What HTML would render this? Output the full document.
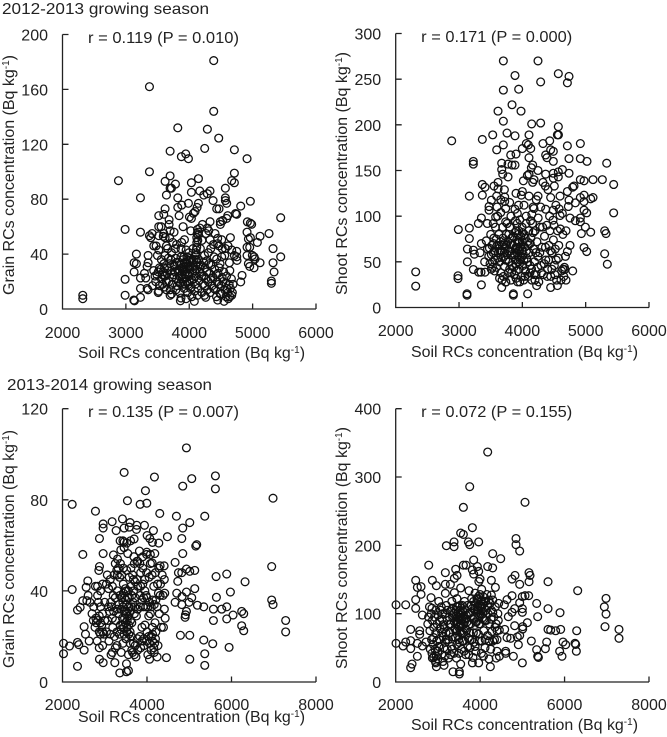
<!DOCTYPE html>
<html lang="en">
<head>
<meta charset="utf-8">
<title>Soil RCs concentration scatter plots</title>
<style>
html,body{margin:0;padding:0;background:#fff;}
#figure{display:block;width:667px;height:737px;}
text{font-family:"Liberation Sans",sans-serif;fill:#222;font-size:16px;}
.axis{stroke:#222;stroke-width:1.3;fill:none;}
.dot{fill:none;stroke:#111;stroke-width:1.3;}
</style>
</head>
<body>
<svg id="figure" xmlns="http://www.w3.org/2000/svg" width="667" height="737" viewBox="0 0 667 737">
<text x="2" y="14" textLength="207" lengthAdjust="spacingAndGlyphs">2012-2013  growing season</text>
<text x="7" y="390" textLength="205" lengthAdjust="spacingAndGlyphs">2013-2014  growing season</text>
</svg>
<script>
const grain2012Points = [
[4386,181],[3372,162],[4386,144],[3819,132],[4286,131],[4465,124.5],[4244,117],[4712,116],[3698,115],[3945,113],[3876,111],[3987,109.5],[4912,109.5],[3372,100],[4712,99],[3698,97],[4145,95],[2883,93.5],[4670,93.5],[4712,92],[3619,93],[3782,91],[4034,92],[3698,88],[3719,88],[4570,88],[4328,86],[4166,86],[4034,85],[4229,83],[4286,84],[3640,83],[3230,81],[3819,81],[4570,81],[4570,79],[4376,79],[4964,78.5],[3987,77],[4145,77],[4591,77],[3881,75.7],[4812,75],[3819,74],[4124,74],[3619,73],[4433,73],[4470,73],[4092,71],[4749,69],[4730,69.5],
[2988,58],[3230,56],[5259,55],[5443,66.5],[4917,63.5],[4964,62.5],[4985,61.7],[4912,56],[5117,53],[4964,52],[4933,51],[5075,48.5],[4649,52],[5322,44],[4912,45],[4954,45],[5443,38],[4996,39],[5022,38],[4912,39],[5038,36.4],[5117,33.7],[5322,33.7],[4933,33],[4954,31],[5022,30],[5338,27],[5296,20.4],[5296,18.7],[4833,24.5],[4812,19.7],[4749,38],[4712,39],[4749,42],[4754,35.4],
[2320,10],[2320,7.5],[2988,21.6],[2988,10],[3125,6.5],[3135,6],[3230,8.5],[3230,15],[3130,27],[3130,33.7],[3166,33],[3166,40],[3230,22.6],[3314,22.6],[3293,26],[3335,31],[3351,33.7],[3351,39],[3498,39],[3372,53.4],[3414,55],[3393,52],[3440,46],[3477,46],[3519,53.4],[3519,60],[3556,60],[3519,68],[3598,69],[3682,65],[3682,61.6],[3598,55],[3619,52],[3698,57],[3760,56],[3590,53],[3740,48.5],[3719,41],[3640,46],[3619,39],[3782,37],[3903,60],[3840,68],[3881,48.5],[3924,50.5],[4003,67],[4034,66],[4066,69.7],[4024,57],[4208,61.6],[4166,59],[4145,56],[4119,52],[4119,48.5],[4286,59],[4328,63.6],[4307,57],[4265,55],[4407,55],[4328,50.5],[4449,51.5],[4512,50.5],[4449,47.6],[4470,46],[4491,63.6],[4491,61.6],[4528,64.5],[4591,66],[4607,68],[4512,38],[4391,38],[4433,36.4],[4486,33],[4633,33.7],[4570,44],[4612,46],[4670,43],
[4130,58],[4125,55],[4118,45],[4110,43],[4105,41],[4095,39],[4140,54],[4135,50],[4175,44],[3690,52],[3660,44],[3800,47],[3710,36],[3560,36],[3600,33],[3950,43],[3995,41],[4020,37],[4240,39],[4300,41],[4340,44],[4520,44],[4560,39],
[3860,6],[3870,8],[3950,7.5],[4080,5.6],[4040,9],[4130,10],[4260,8.5],[4240,10],[4330,12],[4430,9],[4449,6.5],[4549,5.6],[4617,7.5],[4670,10],[4640,9],[4580,9],[4500,11],[3698,10],[3720,11],[3519,13],[3510,12],[3335,15],[3350,14],[3640,14],[3420,17],[3470,20],[3440,28],[3490,25],[3530,17],[3560,22],[3590,27],[3530,30],[3580,18],[3620,24],[3650,30],[3680,20],[3700,14],[3730,18],[3750,25],[3770,31],[3790,14],[3800,22],[3820,28],[3840,34],[3850,12],[3865,19],[3880,25],[3895,30],[3905,36],[3920,15],[3930,22],[3945,27],[3955,33],[3965,38],[3975,12],[3985,18],[3995,24],[4005,29],[4015,34],[4030,16],[4040,21],[4050,26],[4060,31],[4075,36],[4085,13],[4095,18],[4105,24],[4115,29],[4125,34],[4140,15],[4155,21],[4170,27],[4185,32],[4200,12],[4215,18],[4230,24],[4250,30],[4270,35],[4285,14],[4300,20],[4320,26],[4340,32],[4360,17],[4380,23],[4400,29],[4415,14],[4440,20],[4455,26],[4475,30],[4490,11],[4505,17],[4520,23],[4545,27],[4560,14],[4575,19],[4590,24],[4610,12],[4630,18],[4650,15],[4665,22],[4680,12],[4690,18],[3900,18],[3910,28],[3940,18],[3960,20],[3970,26],[3980,31],[3990,35],[4000,20],[4010,26],[3850,28],[3830,20],[3870,32],[3760,32],[3720,28],[3640,20],[3600,24],[4070,22],[4100,32],[3800,34],[3930,34],[3870,38],[4020,15],[3890,22],[4150,36],[4260,22],
[3460,24],[3510,27],[3550,29],[3575,25],[3610,30],[3655,26],[3690,33],[3735,23],[3775,27],[3810,17],[3845,24],[3925,29],[3915,38],[3935,25],[3975,29],[4012,31],[4045,35],[4085,28],[4110,36],[4160,31],[4195,24],[4225,34],[4245,17],[4275,27],[4310,33],[4345,22],[4385,15],[4425,25],[4465,18],[4535,20],[4595,15],[3520,43],[3780,44],[3870,44],[4060,44],[4200,50],[4380,47],[4640,28],[3610,16],[3670,37]
];
const shoot2012Points = [
[3700,270],[4247,270],[3884,254],[4568,256],[4737,253],[4711,246],[4289,247],[3942,239],[3700,238],[3837,222],[3616,215],[3979,215],[3700,204],[4147,201],[4289,202],[4568,198],[3758,191],[3532,189],[3884,188],[4105,189],[4553,189],[4570,189],[2884,182.5],[3368,184],[4432,182.5],[4326,179.5],[4916,179.5],[3700,178],[4063,179.5],[4095,178],[4711,177],[4000,174],[4132,174],[3595,172.6],[4447,172.6],[4489,171],[4368,167],[3816,167],[3900,168],[4389,164],[4105,164],[4489,160],[4916,163],[4737,163],[5021,160],[5332,158],[3226,160],[3226,157],[3674,158],[3774,157],[3837,156],[3884,156],[3674,151],[4163,156],[4142,153],[4247,150],[4632,151],[4568,148.5],[4489,147],[4737,147],[4368,146],[4105,146],[3690,146],[3774,143],[4568,143],[4489,141.6],[4079,144.5],[4016,138.7],[4184,140],[4163,137],[4326,137],[4916,140],[4974,138.7],[5116,140],[5263,140],[5442,134.7],[3368,134.7],[3410,131.7],[3616,137],[3553,133],[3616,130],[3716,129],[4363,133],[4505,133],[4816,133],[4795,131.7],[4711,127],[4405,129],[4000,127],[3900,125],[3984,123],[3721,121],[3368,123],[3163,122],[3595,122],[4105,122],[4247,122],[4447,120.4],[4595,122],[4916,120.4],[4974,123],[5079,119],[5116,120.4],[4974,116],[4737,117.5],[3511,117.5],[4837,114.6],[4726,110.6],[3721,116],[4026,112],[3474,110.6],[3474,106.6],[3737,108.4],[3884,107.6],[4184,108.4],[4368,107.6],[4489,106.6],[4974,106.6],[5016,103.6],[5442,103.6],[4632,103],[4595,100.7],[3921,103],[3353,98],[3579,99],[4753,98],[4837,95],[4916,98],[4916,93.8],[3305,92],[3447,92],[3737,93.8],[4484,95.6],[2989,85.4],[3163,86.9],[5079,82.5],[4995,88],[4932,81],[5300,84],[5321,81],[3163,75.5],[3353,70],[4753,68],[4974,65.7],[5016,61.3],[4711,61.3],[5300,58.8],[5342,47.4],[3132,64],[3226,62.8],[3242,58.4],[3332,60],[3132,50],[3226,41.6],[3310,38.7],[3347,38.7],[3410,38.7],[3405,50],[2316,39],[2316,23.4],[2984,34.7],[2984,31.7],[3126,15],[3126,13.5],[3353,24.8],[3674,21.9],[3737,27.7],[3858,15],[3858,13.5],[4084,15],[4226,24],[4447,21.9],[4553,24],[4689,30],[4795,40],[4668,41.6],
[3430,73],[3450,64],[3470,56],[3490,48],[3510,42],[3520,68],[3540,60],[3550,76],[3560,52],[3575,88],[3590,44],[3600,68],[3620,60],[3630,80],[3640,50],[3655,72],[3660,38],[3670,62],[3680,30],[3690,88],[3700,55],[3710,70],[3720,45],[3730,64],[3740,28],[3745,80],[3760,58],[3770,72],[3780,38],[3790,50],[3800,88],[3810,62],[3820,30],[3830,76],[3840,46],[3850,68],[3860,56],[3870,36],[3880,82],[3890,64],[3900,48],[3910,74],[3920,92],[3925,28],[3930,58],[3940,70],[3945,84],[3950,42],[3960,96],[3965,66],[3970,52],[3975,78],[3985,34],[3990,62],[3995,88],[4000,72],[4010,46],[4015,58],[4020,30],[4030,80],[4040,66],[4050,40],[4060,92],[4070,54],[4080,72],[4090,34],[4100,84],[4110,60],[4120,46],[4135,76],[4150,30],[4160,92],[4175,64],[4190,50],[4200,84],[4215,36],[4230,72],[4245,56],[4260,28],[4280,88],[4295,46],[4310,66],[4330,36],[4350,78],[4370,52],[4385,90],[4400,42],[4420,68],[4435,84],[4450,34],[4470,60],[4490,74],[4505,46],[4520,64],[4540,30],[4555,84],[4570,54],[4600,86],[4620,40],[4640,80],[4655,34],[4665,44],[4680,56],[4690,84],[3820,100],[3760,92],[4150,102],[4250,98],[4320,88],[4500,90],[3500,80],[3540,92],[3610,100],[3660,104],[3890,95],[3905,84],[3935,80],[3950,72],[3915,60],[3955,62],[3900,66],[3880,58],[3925,72],
[3480,65],[3510,58],[3530,50],[3545,70],[3565,62],[3590,75],[3610,54],[3625,68],[3645,62],[3665,55],[3685,68],[3695,76],[3715,60],[3735,52],[3750,68],[3775,62],[3785,80],[3800,42],[3815,70],[3835,58],[3855,78],[3865,44],[3885,52],[3905,40],[3920,64],[3935,50],[3955,48],[3980,56],[4005,82],[4025,52],[4045,76],[4065,62],[4085,50],[4095,68],[4125,70],[4145,42],[4170,82],[4185,36],[4210,60],[4240,44],[4275,60],[4305,38],[4345,48],[4365,66],[4395,34],[4415,52],[4445,62],[4465,42],[4515,36],[4535,52],[4575,68],[4610,30],[4640,42],[3640,32],[3700,34],[3560,40],[3530,44],[3600,110],[3660,118],[4130,95],[4170,110],[4290,110],[4430,100],[4530,112],[4580,108],[3800,115],[3940,112],[4060,100],[4220,118],[3830,38],[3900,32],[3960,28],[4040,34],[4120,38],[4200,30]
];
const grain2013Points = [
[4933,102.8],[3459,92],[4176,90],[5059,89.3],[5619,90.5],[4846,86],[5619,84.8],[3963,84],[6983,80.7],[3537,79.6],[2229,78],[3837,78],[3995,78.5],[2780,75],[4302,74],[4696,72.8],[5367,72.8],[3175,70.4],[3419,71.6],[2962,69.4],[2962,67.6],[3269,66.5],[3600,70],[3758,68.8],[3940,68.8],[3459,67.6],[3580,68],[3750,67],[4152,66.5],[5012,70],[4846,67.6],[4003,64.3],[4066,63],[4483,63.8],[2875,63],[4823,63],[3364,62],[3695,62.8],[3459,61.5],[4129,61.3],[4279,61],[5177,60.3],[5154,59.7],[3459,59],[2481,56],[2962,56.4],[3545,56.4],[3821,57.5],[3995,57],[4846,56.4],[4184,56.4],[3206,55.8],[3301,54],[4665,52.5],[4121,52.3],[4310,51],[4405,51],[2875,50.7],[3285,49],[6951,50.7],[2860,49],[4933,49.6],[5130,49],[5012,48.6],[4823,48],[4744,48],[5887,47.4],[5635,46.3],[4728,44.2],[6321,44],[2599,44.4],[5130,41],[2560,41.6],[2229,40.6],[5974,39.5],[4704,39],[4933,39.5],[4665,35],[4830,37.5],[5059,37],[5643,37.2],[6951,36],[6983,34],[4823,34],[4996,35],[5193,33.7],[5343,33],[5572,32],[5769,32],[5887,33],[6241,31],[6289,30],[4933,31],[4902,28.4],[4910,29.5],[5572,27],[5887,27.7],[6037,29.4],[6241,24.7],[6289,22.5],[7282,27],[7282,22],[4791,20.5],[5012,20.5],[5343,18.4],[5556,16.8],[5943,15.2],[5367,12.4],[5012,10],[5367,7.3],[4460,10.7],[2024,17],[2024,12.4],[2166,15.8],[2355,17.4],[2386,16.4],[2512,14],[2631,18],[2355,6.9],[2875,10],[2962,8.5],[3238,8.5],[3356,4],[3514,4.5],[3560,5],[3514,8],[2355,31.6],[2418,32.8],[2481,35.7],[2576,35.7],[2607,38],[2512,24.3],[2544,21],
[2780,42],[2830,42],[2850,35],[2900,33],[2950,30],[2790,28],[2830,27],[2870,29],[2800,26],[2870,22],[2900,21],[2950,22],[2950,43],[2820,18],[2870,15],[2950,16],[3000,35],[3060,47],[3130,45],[3180,42],[3200,38],[3250,37],[3180,28],[3190,24],[3230,20],[3130,21],[3100,18],[3180,13],[3150,12],[3250,15],[3290,16],[3250,52],[3320,50],[3370,52],[3400,47],[3300,40],[3360,38],[3400,37],[3430,35],[3470,37],[3500,36],[3520,34],[3460,31],[3490,30],[3420,28],[3370,25],[3430,25],[3490,26],[3530,27],[3570,25],[3610,27],[3640,26],[3570,33],[3640,38],[3680,40],[3720,37],[3680,45],[3760,45],[3760,53],[3830,52],[3850,48],[3900,50],[3950,45],[4050,46],[3950,40],[3980,38],[4020,33],[4060,35],[4100,33],[3910,33],[3840,33],[3780,32],[3700,30],[3950,25],[3880,24],[3830,20],[3770,19],[3880,18],[3920,19],[4000,22],[4040,20],[4100,20],[4130,18],[4180,17],[4200,19],[4100,14],[4170,13],[4240,11],[4020,12],[4060,10],[3700,12],[3740,11],[3640,14],[3660,13],[3560,12],[3390,13],[3290,22],[4270,39],[4310,38],[4380,38],[4420,39],[4240,33],[4290,30],[4410,32],[4430,28],[4190,26],[4340,24],[4390,24],[4280,50],[4200,48],[4160,42],[4410,45],[3560,40],[3620,42],[3490,41],[3440,43],[3700,52],[3450,24],[3520,22],[3600,22],[3600,17],[3500,19],[3430,17],[3350,21],[3330,30],[3140,35],[3090,33],[4130,24],
[2650,35],[2700,30],[2730,27],[2770,24],[2740,33],[2900,26],[2930,25],[2980,21],[2830,38],[2900,40],[3000,27],[3040,22],[3070,27],[3110,31],[3160,33],[3210,31],[3260,27],[3300,32],[3340,34],[3390,32],[3440,39],[3510,40],[3540,37],[3580,37],[3430,33],[3470,28],[3510,31],[3550,29],[3590,31],[3630,33],[3670,35],[3710,33],[3750,29],[3390,23],[3460,21],[3530,24],[3570,21],[3630,20],[3680,17],[3720,16],[3780,14],[3850,15],[3930,16],[3990,18],[4060,17],[4130,21],[4160,15],[4210,22],[4260,16],[3840,38],[3880,36],[3920,37],[3970,33],[4000,37],[4040,29],[4080,30],[4130,36],[4170,34],[4210,36],[4250,43],[4320,43],[4360,47],[3040,43],[3090,41],[3220,47],[3300,47],[3350,46],[3440,50],[3520,49],[3580,46],[3620,50],[3660,47],[3720,44],[3780,42],[3850,42],[3900,43],[3990,48],[4080,52],[4120,47],[3380,58],[3430,62],[3520,61],[3610,62],[3690,55],[3780,53],[3900,55],[3990,56],[4080,56]
];
const shoot2013Points = [
[4179,336.6],[3753,285.9],[5063,263],[3603,255.6],[3816,225.9],[3539,218],[3603,216],[4850,210],[3382,205],[3721,205],[3966,205],[4850,201],[3753,201],[3200,199.5],[3382,198],[4937,191.7],[4297,187.8],[4487,180.5],[3847,178.5],[2782,171],[3603,171],[3666,171],[3934,169],[4179,169],[4297,167],[3421,165],[3816,164],[3966,162],[3847,158],[3176,160],[5158,160],[5182,156],[3453,156],[4826,156],[4755,150.7],[3997,150.7],[3389,151.7],[2474,148.8],[2868,148.8],[5608,146.8],[5158,146.8],[4266,148.8],[3970,147],[4937,143],[2600,139.5],[2513,138.5],[2963,141],[3176,143],[3295,143],[4361,138.5],[4037,135.6],[3539,137.6],[3737,133.7],[6311,133.7],[2600,128.3],[3389,130.7],[3176,129.8],[5063,126.3],[5150,126.3],[5000,125],[4755,126.3],[4266,127.3],[2474,120.5],[2837,123.4],[6982,122.4],[6942,110],[5339,115],[4637,120.5],[4937,116],[2008,113],[2237,113],[2474,107.8],[5608,107.3],[5000,107.3],[4818,107.3],[4574,113],[5000,102],[4755,102],[5892,101.5],[6982,99.5],[2632,98],[5363,95.6],[4668,95.6],[5118,86.8],[4818,82.4],[5008,81],[5008,77.6],[6958,81],[7289,77],[7289,64],[2355,77],[2568,75],[2568,69.8],[5608,77],[5671,76],[5789,75],[5908,77],[6287,75],[4582,77],[4637,65],[4724,64],[4937,68],[4880,66],[5213,60],[5576,58.5],[5963,58.5],[6026,54.6],[6247,56.6],[6265,55],[6279,45],[5884,45],[5545,48.8],[5339,47.3],[5363,37.6],[5380,36],[5939,37.6],[4905,54.6],[4605,45],[4605,42],[4455,37.6],[4787,37.6],[5000,28],[4242,22.4],[4210,33.7],[3966,28],[3816,28],[2008,56.6],[2174,52.7],[2237,58.5],[2355,60.5],[2355,49],[2513,56.6],[2632,52.7],[2718,58.5],[2513,37.6],[2387,26.3],[2355,21],[3358,15],[3508,11.7],[3508,15],[3539,26.3],[3145,24.4],[2963,22.4],
[2800,110],[2840,100],[2870,90],[2900,80],[2760,85],[2810,75],[2850,62],[2890,55],[2820,48],[2860,42],[2900,36],[2940,30],[2960,38],[3000,45],[2970,60],[2950,72],[2980,85],[3000,98],[2950,105],[3020,118],[3080,110],[3100,92],[3050,78],[3040,62],[3020,52],[3090,40],[3120,30],[3130,66],[3150,78],[3170,100],[3200,112],[3220,90],[3180,58],[3220,48],[3250,35],[3260,72],[3280,84],[3300,104],[3330,118],[3350,94],[3340,66],[3320,52],[3380,42],[3400,78],[3420,96],[3440,110],[3450,122],[3460,88],[3470,68],[3480,100],[3490,80],[3500,92],[3510,58],[3520,112],[3530,74],[3540,98],[3550,86],[3560,48],[3575,70],[3590,104],[3600,84],[3615,60],[3630,118],[3650,92],[3660,40],[3680,76],[3700,112],[3720,64],[3740,100],[3760,50],[3780,85],[3800,122],[3820,108],[3840,72],[3850,58],[3860,95],[3880,130],[3900,115],[3915,88],[3930,105],[3945,122],[3960,70],[3975,98],[3990,112],[4000,128],[4010,85],[4020,104],[4030,118],[4040,60],[4055,94],[4070,125],[4085,75],[4100,108],[4115,50],[4130,118],[4145,90],[4160,128],[4175,68],[4190,100],[4205,60],[4220,85],[4235,115],[4250,48],[4265,105],[4280,74],[4300,120],[4320,95],[4340,62],[4360,110],[4380,85],[4400,45],[4420,100],[4440,115],[4455,76],[4380,35],[3590,95],[3470,95],[3510,82],[3550,100],[3430,85],[3640,105],[3960,105],[4020,112],[3950,95],
[2780,95],[2860,108],[2920,95],[2900,65],[2930,48],[2870,35],[2950,28],[3000,34],[3040,90],[3060,105],[3110,100],[3130,84],[3090,72],[3140,50],[3170,38],[3190,72],[3220,105],[3250,62],[3270,95],[3290,72],[3310,85],[3340,108],[3370,100],[3390,88],[3410,65],[3430,105],[3450,75],[3470,110],[3490,62],[3510,95],[3530,105],[3550,72],[3570,92],[3580,112],[3610,72],[3630,88],[3650,78],[3670,98],[3690,88],[3710,52],[3730,84],[3750,72],[3770,102],[3790,112],[3810,62],[3830,92],[3845,118],[3870,105],[3890,88],[3910,72],[3925,122],[3940,110],[3960,125],[3975,85],[4000,100],[4010,118],[4040,110],[4065,100],[4090,118],[4110,90],[4140,105],[4170,112],[4210,120],[4260,92],[4300,102],[4350,80],[4400,75],[4430,90],[3300,40],[3440,35],[3500,42],[3620,45],[3730,40],[3830,36],[3900,45],[4030,42],[4120,62],[4220,60],[4300,60],[4400,62],[3200,62],[3340,48],[3450,55],[3580,60],[3760,62],[3880,52],[3980,60],[4080,38]
];
const x2012Ticks = [2000,3000,4000,5000,6000];
const x2013Ticks = [2000,4000,6000,8000];
const grain2012Ticks = [0,40,80,120,160,200];
const shoot2012Ticks = [0,50,100,150,200,250,300];
const grain2013Ticks = [0,40,80,120];
const shoot2013Ticks = [0,100,200,300,400];
const SVGNS = 'http://www.w3.org/2000/svg';
const figure = document.getElementById('figure');

function addText(parent, x, y, content, anchor) {
  const t = document.createElementNS(SVGNS, 'text');
  t.setAttribute('x', x);
  t.setAttribute('y', y);
  if (anchor) t.setAttribute('text-anchor', anchor);
  t.textContent = content;
  parent.appendChild(t);
  return t;
}

function addUnitLabel(parent, prefix, length) {
  const t = document.createElementNS(SVGNS, 'text');
  t.setAttribute('textLength', length);
  t.setAttribute('lengthAdjust', 'spacingAndGlyphs');
  t.appendChild(document.createTextNode(prefix + ' (Bq kg'));
  const sup = document.createElementNS(SVGNS, 'tspan');
  sup.setAttribute('dy', '-5');
  sup.setAttribute('font-size', '10');
  sup.textContent = '-1';
  t.appendChild(sup);
  const close = document.createElementNS(SVGNS, 'tspan');
  close.setAttribute('dy', '5');
  close.textContent = ')';
  t.appendChild(close);
  parent.appendChild(t);
  return t;
}

function drawPanel(opt) {
  const g = document.createElementNS(SVGNS, 'g');
  
  
  figure.appendChild(g);
  const sx = v => opt.left + (v - opt.xTicks[0]) / (opt.xTicks[opt.xTicks.length - 1] - opt.xTicks[0]) * (opt.right - opt.left);
  const sy = v => opt.bottom - (v - opt.yTicks[0]) / (opt.yTicks[opt.yTicks.length - 1] - opt.yTicks[0]) * (opt.bottom - opt.top);

  const axes = document.createElementNS(SVGNS, 'path');
  let d = 'M' + opt.left + ' ' + opt.top + 'V' + opt.bottom + 'H' + opt.right;
  opt.xTicks.slice(1).forEach(v => { d += 'M' + sx(v) + ' ' + opt.bottom + 'v-5.5'; });
  opt.yTicks.slice(1).forEach(v => { d += 'M' + opt.left + ' ' + sy(v) + 'h6'; });
  axes.setAttribute('d', d);
  axes.setAttribute('class', 'axis');
  
  
  g.appendChild(axes);

  opt.xTicks.forEach(v => {
    const t = addText(g, sx(v), opt.xTickBase, String(v), 'middle');
    
    
  });
  opt.yTicks.forEach(v => {
    const t = addText(g, opt.left - 14.5, sy(v) + 6, String(v), 'end');
    
    
  });

  const xt = addUnitLabel(g, 'Soil RCs concentration', 227);
  xt.setAttribute('x', opt.xTitleX);
  xt.setAttribute('y', opt.xTitleBase);
  
  

  const yt = addUnitLabel(g, opt.yTitle, opt.yTitleLen);
  yt.setAttribute('transform', 'translate(' + opt.yTitleX + ' ' + opt.yTitleStart + ') rotate(-90)');
  
  

  const r = addText(g, opt.left + 25.5, opt.rBase, opt.rText);
  r.setAttribute('textLength', '151');
  r.setAttribute('lengthAdjust', 'spacingAndGlyphs');
  
  

  opt.points.forEach(p => {
    const c = document.createElementNS(SVGNS, 'circle');
    c.setAttribute('cx', sx(p[0]));
    c.setAttribute('cy', sy(p[1]));
    c.setAttribute('r', 3.9);
    c.setAttribute('class', 'dot');
    
    
    g.appendChild(c);
  });
}

drawPanel({name:'grain-2012-2013-panel',points:grain2012Points,xTicks:x2012Ticks,yTicks:grain2012Ticks,left:62.5,right:316,bottom:309,top:34.5,xTickBase:338,xTitleX:78,xTitleBase:358,yTitle:'Grain RCs concentration',yTitleX:14,yTitleStart:295,yTitleLen:240,rBase:43,rText:'r = 0.119  (P = 0.010)'});
drawPanel({name:'shoot-2012-2013-panel',points:shoot2012Points,xTicks:x2012Ticks,yTicks:shoot2012Ticks,left:395.7,right:649,bottom:307.5,top:33.5,xTickBase:336,xTitleX:411,xTitleBase:357,yTitle:'Shoot RCs concentration',yTitleX:347,yTitleStart:295,yTitleLen:243,rBase:42,rText:'r = 0.171  (P = 0.000)'});
drawPanel({name:'grain-2013-2014-panel',points:grain2013Points,xTicks:x2013Ticks,yTicks:grain2013Ticks,left:62.5,right:316,bottom:682,top:408.7,xTickBase:710,xTitleX:78,xTitleBase:722,yTitle:'Grain RCs concentration',yTitleX:14,yTitleStart:668,yTitleLen:238,rBase:417,rText:'r = 0.135  (P = 0.007)'});
drawPanel({name:'shoot-2013-2014-panel',points:shoot2013Points,xTicks:x2013Ticks,yTicks:shoot2013Ticks,left:395.7,right:649,bottom:682,top:408.7,xTickBase:710,xTitleX:411,xTitleBase:730,yTitle:'Shoot RCs concentration',yTitleX:347,yTitleStart:669,yTitleLen:242,rBase:417,rText:'r = 0.072  (P = 0.155)'});
</script>
</body>
</html>
